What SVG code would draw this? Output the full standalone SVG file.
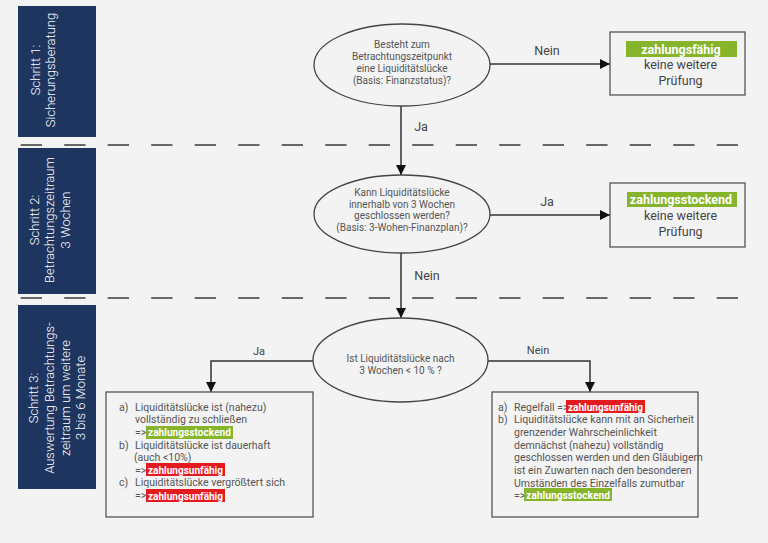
<svg xmlns="http://www.w3.org/2000/svg" width="768" height="543" viewBox="0 0 768 543">
<defs>
<style>
.bg{fill:#f3f3f3}
.step{fill:#1e3560}
.steptxt{font-family:Roboto,"Liberation Sans",sans-serif;font-size:13px;font-weight:300;fill:#ffffff;text-anchor:middle}
.dash{stroke:#3a3a3a;stroke-width:1.5;stroke-dasharray:21.3 22.2;fill:none}
.ell{fill:#f3f3f3;stroke:#444;stroke-width:1.3}
.etxt{font-family:Roboto,"Liberation Sans",sans-serif;font-size:10px;fill:#555;text-anchor:middle}
.box{fill:#f3f3f3;stroke:#555;stroke-width:1.3}
.rtxt{font-family:Roboto,"Liberation Sans",sans-serif;font-size:12.5px;fill:#444;text-anchor:middle}
.hl{font-family:Roboto,"Liberation Sans",sans-serif;font-weight:bold;fill:#ffffff}
.green{fill:#86b42a}
.red{fill:#e31b1f}
.btxt{font-family:Roboto,"Liberation Sans",sans-serif;font-size:10.5px;fill:#555}
.lbl{font-family:Roboto,"Liberation Sans",sans-serif;font-size:12.5px;fill:#444;text-anchor:middle}
.con{stroke:#333;stroke-width:1.5;fill:none}
</style>
<marker id="arr" viewBox="0 0 10 10" refX="10" refY="5" markerWidth="10" markerHeight="10" markerUnits="userSpaceOnUse" orient="auto">
<path d="M0,0 L10,5 L0,10 Z" fill="#111"/>
</marker>
</defs>
<rect class="bg" x="0" y="0" width="768" height="543"/>

<g id="step1">
<rect class="step" x="18" y="6" width="78" height="131"/>
<g transform="translate(0,70) rotate(-90)">
<text class="steptxt" x="0" y="39.5">Schritt 1:</text>
<text class="steptxt" x="0" y="55">Sicherungsberatung</text>
</g>
</g>
<g id="step2">
<rect class="step" x="18" y="148" width="78" height="146"/>
<g transform="translate(0,220) rotate(-90)">
<text class="steptxt" x="0" y="38.5">Schritt 2:</text>
<text class="steptxt" x="0" y="54">Betrachtungszeitraum</text>
<text class="steptxt" x="0" y="69.5">3 Wochen</text>
</g>
</g>
<g id="step3">
<rect class="step" x="18" y="305" width="78" height="184"/>
<g transform="translate(0,398) rotate(-90)">
<text class="steptxt" x="0" y="38">Schritt 3:</text>
<text class="steptxt" x="0" y="54">Auswertung Betrachtungs-</text>
<text class="steptxt" x="0" y="69.5">zeitraum um weitere</text>
<text class="steptxt" x="0" y="85">3 bis 6 Monate</text>
</g>
</g>

<g id="separators">
<line class="dash" x1="20.7" y1="145" x2="740" y2="145"/>
<line class="dash" x1="20.7" y1="298" x2="740" y2="298"/>
</g>

<g id="connectors">
<line class="con" x1="489" y1="64" x2="610" y2="64" marker-end="url(#arr)"/>
<line class="con" x1="401" y1="106" x2="401" y2="175" marker-end="url(#arr)"/>
<line class="con" x1="489" y1="215" x2="610" y2="215" marker-end="url(#arr)"/>
<line class="con" x1="401" y1="253" x2="401" y2="318" marker-end="url(#arr)"/>
<polyline class="con" points="313,361 211,361 211,392" marker-end="url(#arr)"/>
<polyline class="con" points="488,361 590,361 590,392" marker-end="url(#arr)"/>
<text class="lbl" x="547" y="54.5">Nein</text>
<text class="lbl" x="421" y="131">Ja</text>
<text class="lbl" x="547" y="205.5">Ja</text>
<text class="lbl" x="427" y="279.5">Nein</text>
<text class="lbl" x="259" y="355" style="font-size:11px">Ja</text>
<text class="lbl" x="538" y="354" style="font-size:11px">Nein</text>
</g>

<g id="q1">
<ellipse class="ell" cx="402" cy="65" rx="88" ry="41"/>
<text class="etxt" x="402" y="48">Besteht zum</text>
<text class="etxt" x="402" y="60">Betrachtungszeitpunkt</text>
<text class="etxt" x="402" y="72">eine Liquiditätslücke</text>
<text class="etxt" x="402" y="84">(Basis: Finanzstatus)?</text>
</g>
<g id="q2">
<ellipse class="ell" cx="402" cy="214" rx="88" ry="39"/>
<text class="etxt" x="402" y="196">Kann Liquiditätslücke</text>
<text class="etxt" x="402" y="207.5">innerhalb von 3 Wochen</text>
<text class="etxt" x="402" y="219">geschlossen werden?</text>
<text class="etxt" x="402" y="230.5">(Basis: 3-Wohen-Finanzplan)?</text>
</g>
<g id="q3">
<ellipse class="ell" cx="400.5" cy="360" rx="87.5" ry="42"/>
<text class="etxt" x="400.5" y="362">Ist Liquiditätslücke nach</text>
<text class="etxt" x="400.5" y="374">3 Wochen &lt; 10 % ?</text>
</g>

<g id="r1">
<rect class="box" x="610" y="32" width="135" height="63"/>
<rect class="green" x="626" y="41" width="111" height="16"/>
<text class="hl" x="681" y="53.5" text-anchor="middle" font-size="12.5">zahlungsfähig</text>
<text class="rtxt" x="680.5" y="69">keine weitere</text>
<text class="rtxt" x="680.5" y="85">Prüfung</text>
</g>
<g id="r2">
<rect class="box" x="610" y="183" width="135" height="64"/>
<rect class="green" x="627" y="192" width="110" height="15"/>
<text class="hl" x="681" y="204" text-anchor="middle" font-size="12.5">zahlungsstockend</text>
<text class="rtxt" x="680.5" y="219.5">keine weitere</text>
<text class="rtxt" x="680.5" y="235.5">Prüfung</text>
</g>

<g id="r3">
<rect class="box" x="106" y="392" width="207" height="125"/>
<text class="btxt" x="119" y="411">a)</text>
<text class="btxt" x="135" y="411">Liquiditätslücke ist (nahezu)</text>
<text class="btxt" x="135" y="423">vollständig zu schließen</text>
<text class="btxt" x="135" y="436">=&gt;</text>
<rect class="green" x="146" y="426" width="87" height="13"/>
<text class="hl" x="148" y="436" font-size="10" textLength="83" lengthAdjust="spacingAndGlyphs">zahlungsstockend</text>
<text class="btxt" x="119" y="449">b)</text>
<text class="btxt" x="135" y="449">Liquiditätslücke ist dauerhaft</text>
<text class="btxt" x="134" y="461">(auch &lt;10%)</text>
<text class="btxt" x="135" y="474">=&gt;</text>
<rect class="red" x="146" y="463" width="79" height="13"/>
<text class="hl" x="148" y="473.5" font-size="10" textLength="75" lengthAdjust="spacingAndGlyphs">zahlungsunfähig</text>
<text class="btxt" x="119" y="486">c)</text>
<text class="btxt" x="135" y="486">Liquiditätslücke vergrößtert sich</text>
<text class="btxt" x="135" y="499">=&gt;</text>
<rect class="red" x="146" y="489" width="79" height="13"/>
<text class="hl" x="148" y="499.5" font-size="10" textLength="75" lengthAdjust="spacingAndGlyphs">zahlungsunfähig</text>
</g>

<g id="r4">
<rect class="box" x="492" y="392" width="206" height="125"/>
<text class="btxt" x="498" y="411">a)</text>
<text class="btxt" x="514" y="411">Regelfall =&gt;</text>
<rect class="red" x="566" y="400" width="79" height="13"/>
<text class="hl" x="568" y="410.5" font-size="10" textLength="75" lengthAdjust="spacingAndGlyphs">zahlungsunfähig</text>
<text class="btxt" x="498" y="423">b)</text>
<text class="btxt" x="514" y="423">Liquiditätslücke kann mit an Sicherheit</text>
<text class="btxt" x="514" y="436">grenzender Wahrscheinlichkeit</text>
<text class="btxt" x="514" y="449">demnächst (nahezu) vollständig</text>
<text class="btxt" x="514" y="461">geschlossen werden und den Gläubigern</text>
<text class="btxt" x="514" y="474">ist ein Zuwarten nach den besonderen</text>
<text class="btxt" x="514" y="487">Umständen des Einzelfalls zumutbar</text>
<text class="btxt" x="514" y="499">=&gt;</text>
<rect class="green" x="524" y="488" width="88" height="13"/>
<text class="hl" x="526" y="498.5" font-size="10" textLength="84" lengthAdjust="spacingAndGlyphs">zahlungsstockend</text>
</g>
</svg>
